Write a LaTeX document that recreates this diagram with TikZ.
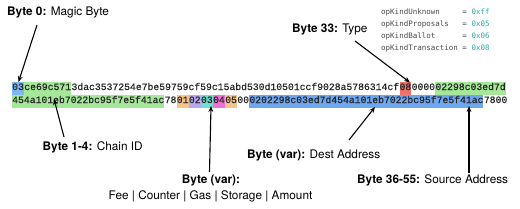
\documentclass[tikz,border=0pt]{standalone}
\usepackage{fontspec}
\setmainfont{TeX Gyre Heros}
\newfontfamily\hexfont{Liberation Mono}[FakeBold=0.5]
\newfontfamily\codefont{DejaVu Sans Mono}
\usetikzlibrary{arrows.meta,calc}
\definecolor{hlblue}{HTML}{7CB8F4}
\definecolor{hldest}{HTML}{6DA7F2}
\definecolor{hlgreen}{HTML}{A6E89A}
\definecolor{hlred}{HTML}{F0706A}
\definecolor{hlorange}{HTML}{F5C48A}
\definecolor{hlpurple}{HTML}{B8A8F0}
\definecolor{hlteal}{HTML}{6FDFD0}
\definecolor{hlpink}{HTML}{F070D8}
\definecolor{codegray}{HTML}{4A4A4A}
\definecolor{codeteal}{HTML}{2FA8A8}
\tikzset{
  hex/.style={inner xsep=0pt, inner ysep=0pt, text height=8.5pt, text depth=4.5pt,
    font=\hexfont\fontsize{9.75}{12}\selectfont, text=black!85, anchor=west},
  lbl/.style={inner sep=0pt, font=\fontsize{11.8}{14}\selectfont, anchor=west},
  arr/.style={line width=1.1pt, -{Stealth[length=6pt,width=4.8pt]}}
}
\begin{document}
\begin{tikzpicture}[x=1pt,y=-1pt]
\useasboundingbox (0,0) rectangle (520,209);
% line 1
\node[hex,fill=hlblue] (m0) at (12,88) {03};
\node[hex,fill=hlgreen] (c1) at (m0.east) {ce69c571};
\node[hex] (b1) at (c1.east) {3dac3537254e7be59759cf59c15abd530d10501ccf9028a5786314cf};
\node[hex,fill=hlred] (t08) at (b1.east) {08};
\node[hex] (z1) at (t08.east) {0000};
\node[hex,fill=hlgreen] (s1) at (z1.east) {02298c03ed7d};
% line 2
\node[hex,fill=hlgreen] (s2) at (12,101) {454a101eb7022bc95f7e5f41ac};
\node[hex] (w78) at (s2.east) {78};
\node[hex,fill=hlorange] (f1) at (w78.east) {01};
\node[hex,fill=hlpurple] (f2) at (f1.east) {02};
\node[hex,fill=hlteal] (f3) at (f2.east) {03};
\node[hex,fill=hlpink] (f4) at (f3.east) {04};
\node[hex,fill=hlorange] (f5) at (f4.east) {05};
\node[hex] (w00) at (f5.east) {00};
\node[hex,fill=hldest] (d1) at (w00.east) {0202298c03ed7d454a101eb7022bc95f7e5f41ac};
\node[hex] (w7800) at (d1.east) {7800};
% code listing
\node[inner sep=0pt, anchor=north west, text=codegray,
  font=\codefont\fontsize{7.5}{12}\selectfont] (code) at (381,6)
  {\begin{tabular}{@{}l@{ }l@{}}
   opKindUnknown & = \textcolor{codeteal}{0xff}\\
   opKindProposals & = \textcolor{codeteal}{0x05}\\
   opKindBallot & = \textcolor{codeteal}{0x06}\\
   opKindTransaction & = \textcolor{codeteal}{0x08}
   \end{tabular}};
% labels
\node[lbl] (l0) at (7,12) {\textbf{Byte 0:} Magic Byte};
\node[lbl] (l33) at (292,29.5) {\textbf{Byte 33:} Type};
\node[lbl] (l14) at (42.5,147.5) {\textbf{Byte 1-4:} Chain ID};
\node[lbl, anchor=center] (lvar) at (211,180.5) {\textbf{Byte (var):}};
\node[lbl, anchor=center] (lfee) at (210.5,196) {Fee | Counter | Gas | Storage | Amount};
\node[lbl] (ldest) at (247,155) {\textbf{Byte (var):} Dest Address};
\node[lbl] (lsrc) at (357,180.5) {\textbf{Byte 36-55:} Source Address};
% connector ends
\coordinate (a0s) at (37,25);
\coordinate (a0e) at (18.5,82);
\coordinate (a33s) at (355,41);
\coordinate (a33e) at (410,82.5);
\coordinate (a14s) at (64,137);
\coordinate (a14e) at (54,99);
\coordinate (afs) at (209.5,172);
\coordinate (afe) at (211,106);
\coordinate (ads) at (349,140);
\coordinate (ade) at (375,107);
\coordinate (ass) at (469,173);
\coordinate (ase) at (469,106);
\draw[arr] (a0s) -- (a0e);
\draw[arr] (a33s) -- (a33e);
\draw[arr] (a14s) -- (a14e);
\draw[arr] (afs) -- (afe);
\draw[arr] (ads) -- (ade);
\draw[arr] (ass) -- (ase);
\end{tikzpicture}
\end{document}
